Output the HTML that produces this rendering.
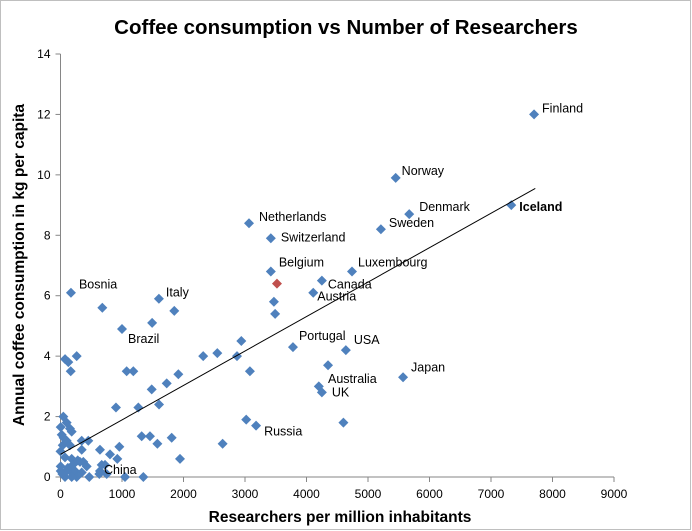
<!DOCTYPE html>
<html><head><meta charset="utf-8"><style>
body{margin:0;background:#fff;}
svg{display:block;font-family:"Liberation Sans",sans-serif;}
</style></head><body>
<svg id="chart" width="692" height="531">
<rect x="0.5" y="0.5" width="690" height="529" fill="#fff" stroke="#bfbfbf"/>
<text x="346" y="34" text-anchor="middle" font-size="20.5" font-weight="bold">Coffee consumption vs Number of Researchers</text>
<text x="340" y="522" text-anchor="middle" font-size="15.5" font-weight="bold">Researchers per million inhabitants</text>
<text transform="translate(24,265) rotate(-90)" text-anchor="middle" font-size="15.5" font-weight="bold">Annual coffee consumption in kg per capita</text>
<g id="axes"></g><g id="marks"></g>
</svg>
<script>
const xTicks=[0,1000,2000,3000,4000,5000,6000,7000,8000,9000];
const yTicks=[0,2,4,6,8,10,12,14];
const researchers=[7700,5450,5670,7330,5210,3065,3420,3420,3470,3490,4250,4110,4740,170,680,1000,1490,1600,1850,3780,4640,2940,2320,2550,2870,3080,5570,4350,4200,4250,3180,3020,4600,
74,127,263,166,1076,1184,1483,1727,1916,902,1266,1602,1320,1455,1575,1808,957,2636,1943,642,805,924,452,345,345,468,1049,1347,642,670,724,631,751,
46,100,154,182,3,36,100,154,73,182,3,3,73,154,236,263,371,426,317,345,182,100,0,20,50,120,30,200,280];
const coffee=[12,9.9,8.7,9.0,8.2,8.4,7.9,6.8,5.8,5.4,6.5,6.1,6.8,6.1,5.6,4.9,5.1,5.9,5.5,4.3,4.2,4.5,4.0,4.1,4.0,3.5,3.3,3.7,3.0,2.8,1.7,1.9,1.8,
3.9,3.8,4.0,3.5,3.5,3.5,2.9,3.1,3.4,2.3,2.3,2.4,1.35,1.35,1.1,1.3,1.0,1.1,0.6,0.9,0.75,0.6,1.2,1.2,0.9,0,0,0,0.2,0.4,0.4,0.1,0.1,
2.0,1.8,1.6,1.5,1.65,1.05,1.2,1.05,0.65,0.6,0.35,0.2,0,0.2,0.2,0,0.5,0.35,0.5,0.15,0,0.2,0.85,1.4,1.3,0.3,0.1,0.4,0.55];
const countryNames=["Finland","Norway","Denmark","Iceland","Sweden","Netherlands","Switzerland","Belgium","","","Canada","Austria","Luxembourg","Bosnia","","Brazil","","Italy","","Portugal","USA","","","","","","Japan","Australia","","UK","Russia"];
const labelOffsets=[[8,-2],[6,-3],[10,-3],[8,6],[8,-2],[10,-2],[10,3],[8,-5],[0,0],[0,0],[6,8],[4,8],[6,-5],[8,-4],[0,0],[6,14],[0,0],[7,-2],[0,0],[6,-7],[8,-6],[0,0],[0,0],[0,0],[0,0],[0,0],[8,-6],[0,18],[0,0],[10,4],[8,10]];
const trend=[0.75,0.00114];
const X0=60.5,X1=614,Y0=477,Y1=54;
const sx=v=>X0+v/9000*(X1-X0), sy=v=>Y0-v/14*(Y0-Y1);
const NS="http://www.w3.org/2000/svg";
const axes=document.getElementById('axes'),marks=document.getElementById('marks');
function mk(tag,attrs,parent){const e=document.createElementNS(NS,tag);for(const k in attrs)e.setAttribute(k,attrs[k]);parent.appendChild(e);return e;}
let a=mk('line',{x1:X0,y1:Y1,x2:X0,y2:Y0,stroke:'#868686'},axes);


a=mk('line',{x1:X0,y1:Y0,x2:X1,y2:Y0,stroke:'#868686'},axes);


xTicks.forEach(t=>{const x=sx(t);mk('line',{x1:x,y1:Y0,x2:x,y2:Y0+5,stroke:'#868686'},axes);
const tx=mk('text',{x:x,y:Y0+21,'text-anchor':'middle','font-size':12},axes);tx.textContent=t;

});
yTicks.forEach(t=>{const y=sy(t);mk('line',{x1:X0-5,y1:y,x2:X0,y2:y,stroke:'#868686'},axes);
const tx=mk('text',{x:X0-10,y:y+4,'text-anchor':'end','font-size':12},axes);tx.textContent=t;

});
researchers.forEach((r,i)=>{const x=sx(r),y=sy(coffee[i]);
const d=mk('path',{d:`M${x},${y-5}L${x+5},${y}L${x},${y+5}L${x-5},${y}Z`,fill:'#4F81BD'},marks);

});
const red=mk('path',{d:`M${sx(3520)},${sy(6.4)-5}L${sx(3520)+5},${sy(6.4)}L${sx(3520)},${sy(6.4)+5}L${sx(3520)-5},${sy(6.4)}Z`,fill:'#C0504D'},marks);


const tl=mk('line',{x1:sx(0),y1:sy(trend[0]),x2:sx(7720),y2:sy(trend[0]+trend[1]*7720),stroke:'#000','stroke-width':1},marks);


countryNames.forEach((n,i)=>{if(!n)return;const o=labelOffsets[i];
const t=mk('text',{x:sx(researchers[i])+o[0],y:sy(coffee[i])+o[1],'font-size':12.5,'font-weight':n==='Iceland'?'bold':'normal'},marks);t.textContent=n;

});
const ch=mk('text',{x:sx(642)+4,y:sy(0.2)+3,'font-size':12.5},marks);ch.textContent='China';


</script>
</body></html>
